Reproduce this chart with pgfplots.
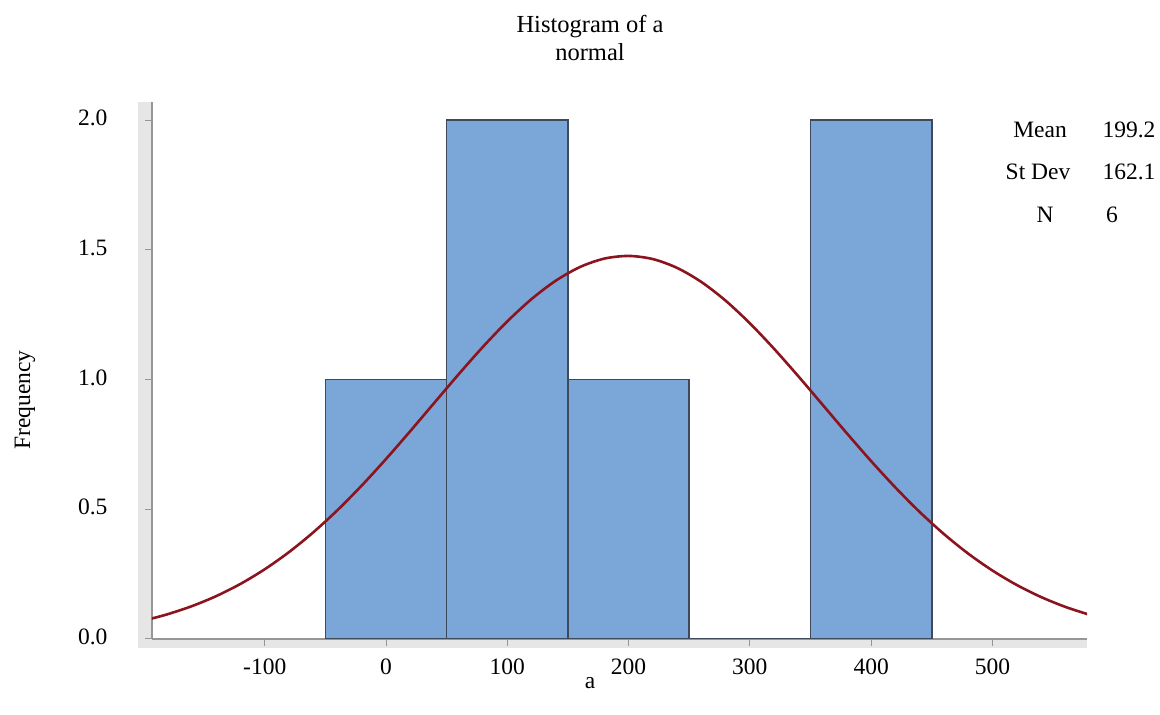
\documentclass[border=0pt]{standalone}
\usepackage{pgfplots}
\pgfplotsset{compat=1.18}
\usepackage{fontspec}
\setmainfont{Liberation Serif}
\definecolor{barfill}{RGB}{123,166,216}
\definecolor{baredge}{RGB}{62,74,92}
\definecolor{curvecol}{RGB}{140,20,30}
\definecolor{band}{RGB}{230,230,230}
\definecolor{axisgray}{RGB}{150,150,150}
\newcommand\fs{\fontsize{23.5}{28.5}\selectfont}
\newcommand\fst{\fontsize{24.5}{28.5}\selectfont}
\begin{document}
\begin{tikzpicture}
\useasboundingbox (-152pt,-76pt) rectangle (1008pt,639pt);
\fill[band] (-14pt,-9pt) rectangle (0pt,537pt);
\fill[band] (-14pt,-9pt) rectangle (935pt,0pt);
\begin{axis}[
  at={(0,0)}, anchor=south west,
  scale only axis, width=935pt, height=537pt,
  xmin=-193, xmax=578, ymin=0, ymax=2.07,
  axis x line*=bottom, axis y line*=left,
  axis line style={axisgray, line width=1.6pt, -},
  xtick={-100,0,100,200,300,400,500},
  ytick={0,0.5,1,1.5,2},
  tick align=outside, major tick length=7pt,
  tick style={axisgray, line width=1pt},
  /pgf/number format/assume math mode=true,
  yticklabel style={/pgf/number format/fixed, /pgf/number format/fixed zerofill, /pgf/number format/precision=1, font=\fs, xshift=-34pt, yshift=2pt},
  xticklabel style={/pgf/number format/fixed, font=\fs, yshift=-9pt},
  clip=true,
]
\addplot[ybar interval, fill=barfill, draw=baredge, line width=1.5pt]
  coordinates {(-50,1) (50,2) (150,1) (250,0) (350,2) (450,2)};
\addplot[smooth, color=curvecol, line width=2.6pt] coordinates {
(-194,0.0779) (-180,0.0957) (-160,0.1268) (-140,0.1654) (-120,0.2125)
(-100,0.2689) (-80,0.3351) (-60,0.4112) (-40,0.4970) (-20,0.5918)
(0,0.6940) (20,0.8015) (40,0.9116) (60,1.0212) (80,1.1268)
(100,1.2244) (120,1.3105) (140,1.3813) (160,1.4341) (180,1.4663)
(200,1.4766) (220,1.4645) (240,1.4305) (260,1.3763) (280,1.3042)
(300,1.2170) (320,1.1185) (340,1.0126) (360,0.9028) (380,0.7928)
(400,0.6856) (420,0.5840) (440,0.4898) (460,0.4047) (480,0.3293)
(500,0.2640) (520,0.2084) (540,0.1620) (560,0.1240) (580,0.0935)
};
\end{axis}
\node[font=\fst, align=center] at (438pt,601pt) {Histogram of a\\normal};
\node[font=\fs, rotate=90] at (-127pt,239pt) {Frequency};
\node[font=\fs] at (438pt,-44pt) {a};
\node[font=\fs] at (888pt,509pt) {Mean};
\node[font=\fs] at (977pt,509pt) {199.2};
\node[font=\fs] at (886pt,467pt) {St Dev};
\node[font=\fs] at (977pt,467pt) {162.1};
\node[font=\fs] at (893pt,424pt) {N};
\node[font=\fs] at (960pt,424pt) {6};
\end{tikzpicture}
\end{document}
